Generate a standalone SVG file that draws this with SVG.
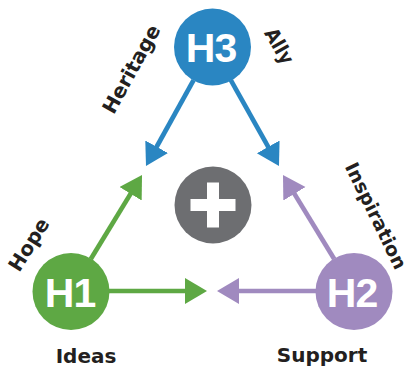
<svg xmlns="http://www.w3.org/2000/svg" width="411" height="369" viewBox="0 0 411 369">
<style>
.lbl{font-family:"DejaVu Sans","Liberation Sans",sans-serif;font-weight:700;font-size:20px;fill:#231f20;text-anchor:middle}
.hn{font-family:"Liberation Sans",Arial,sans-serif;font-weight:700;font-size:41px;fill:#fff;text-anchor:middle;letter-spacing:-1px}
.b{stroke:#2a86c2;stroke-width:4.7;fill:none}
.g{stroke:#5ea844;stroke-width:4.7;fill:none}
.p{stroke:#a08abf;stroke-width:4.7;fill:none}
</style>
<defs>
<marker id="ab" markerUnits="userSpaceOnUse" markerWidth="24" markerHeight="28" viewBox="0 0 24 28" refX="2" refY="13" orient="auto"><path d="M0,0 L22,13 L0,26 z" fill="#2a86c2"/></marker>
<marker id="ag" markerUnits="userSpaceOnUse" markerWidth="24" markerHeight="28" viewBox="0 0 24 28" refX="2" refY="13" orient="auto"><path d="M0,0 L22,13 L0,26 z" fill="#5ea844"/></marker>
<marker id="ap" markerUnits="userSpaceOnUse" markerWidth="24" markerHeight="28" viewBox="0 0 24 28" refX="2" refY="13" orient="auto"><path d="M0,0 L22,13 L0,26 z" fill="#a08abf"/></marker>
</defs>
<g id="connectors">
<line class="b" x1="193.6" y1="80.2" x2="155.7" y2="148.5" marker-end="url(#ab)"/>
<line class="b" x1="230.8" y1="80.1" x2="269.2" y2="148.6" marker-end="url(#ab)"/>
<line class="g" x1="90.8" y1="259" x2="131.6" y2="192.1" marker-end="url(#ag)"/>
<line class="g" x1="109" y1="291" x2="187" y2="291" marker-end="url(#ag)"/>
<line class="p" x1="334.2" y1="259" x2="293.4" y2="192.1" marker-end="url(#ap)"/>
<line class="p" x1="316" y1="291" x2="237" y2="291" marker-end="url(#ap)"/>
</g>
<g id="center">
<circle cx="213" cy="205" r="38.5" fill="#6d6e71"/>
<rect x="190.5" y="199" width="45" height="12" fill="#fff"/>
<rect x="207" y="182.5" width="12" height="45" fill="#fff"/>
</g>
<g id="H3">
<circle cx="212.5" cy="47" r="38.5" fill="#2a86c2"/>
<text class="hn" x="211" y="62">H3</text>
</g>
<g id="H1">
<circle cx="71" cy="291.5" r="38.5" fill="#5ea844"/>
<text class="hn" x="70" y="307">H1</text>
</g>
<g id="H2">
<circle cx="354" cy="291.5" r="38.5" fill="#a08abf"/>
<text class="hn" x="352" y="307">H2</text>
</g>
<g id="labels">
<text class="lbl" transform="translate(133,70) rotate(-61)" y="5">Heritage</text>
<text class="lbl" transform="translate(278.5,46.5) rotate(60)" y="6" textLength="38" lengthAdjust="spacingAndGlyphs">Ally</text>
<text class="lbl" transform="translate(30.5,245.5) rotate(-58)" y="5">Hope</text>
<text class="lbl" transform="translate(374.5,216.5) rotate(64)" y="5" style="font-size:19px">Inspiration</text>
<text class="lbl" x="86" y="363">Ideas</text>
<text class="lbl" x="322" y="362">Support</text>
</g>
</svg>
